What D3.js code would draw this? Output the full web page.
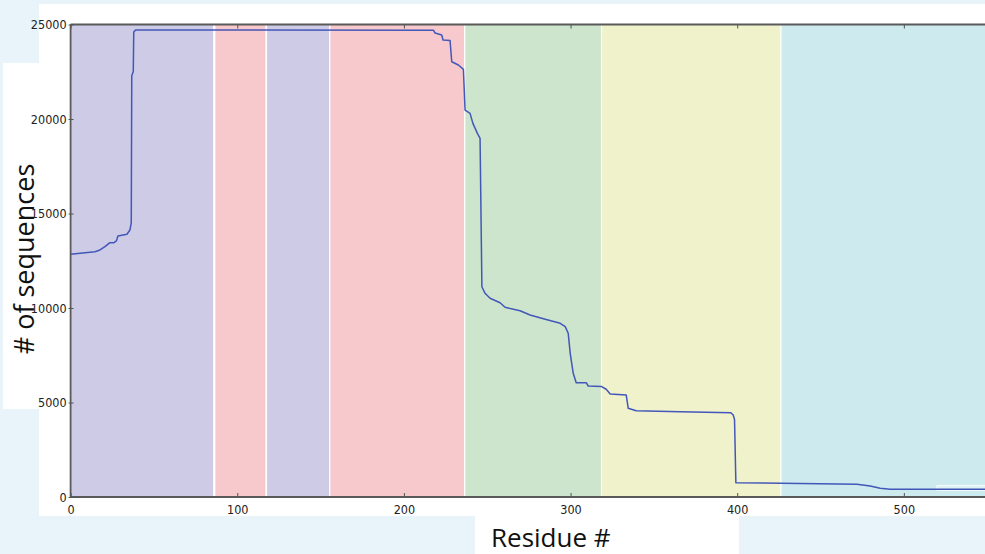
<!DOCTYPE html>
<html>
<head>
<meta charset="utf-8">
<script src="https://cdn.jsdelivr.net/npm/d3@7"></script>
<style>
  body{margin:0;background:#e8f3fa;}
  svg{display:block;}
</style>
</head>
<body>
<div id="chart"></div>
<script>
var svgW=985,svgH=554;
var margin={left:70.6,top:24.5,right:-1.8,bottom:57};

// residue ranges coloured in the background
var bandStart=[0,86.9,117.9,155.9,236.9,318.8,426.6];
var bandEnd=[85.5,116.9,155.1,236.1,318.2,425.8,550];
var bandGroup=["a","b","a","b","c","d","e"];

// line: residue number vs. number of sequences
var residue=[0,14.6,17.6,20.6,23.6,26,27.5,28.4,33.8,35.6,36.4,36.7,37.6,37.9,39,
  217.7,218.7,222.7,223.5,227.7,228.7,232.7,235.7,236.7,239.7,241.4,244.1,245.7,246.8,
  248.7,251.7,257.7,260.7,269.7,275.7,284.8,293.8,296.8,298.6,299.8,301.6,303.4,309.4,
  310.6,318.4,321.4,323.8,333.4,334.6,339.4,365.8,396.2,397.6,398.4,399.2,471.8,479.8,
  485.8,491.8,550];
var seqCount=[12850,12980,13070,13245,13455,13455,13550,13810,13900,14127,14500,22300,22500,24600,24710,
  24700,24550,24444,24180,24150,23030,22857,22628,20476,20300,19770,19240,18980,11127,
  10777,10513,10280,10037,9857,9630,9401,9190,9013,8661,7603,6545,6047,6047,
  5873,5850,5700,5450,5400,4693,4566,4513,4460,4339,4100,757,672,582,
  460,407,407];

var xTicks=[0,100,200,300,400,500];
var yTicks=[0,5000,10000,15000,20000,25000];

var bandColor=d3.scaleOrdinal()
  .domain(["a","b","c","d","e"])
  .range(["#cdcbe6","#f7c9cd","#cde4cd","#f0f2cc","#cdebee"]);

var svg=d3.select("#chart").append("svg")
  .attr("width",svgW).attr("height",svgH);

// white cut-out panels behind the figure (screenshot look)
svg.append("rect").attr("x",39).attr("y",4).attr("width",946).attr("height",512).attr("fill","#fff");
svg.append("rect").attr("x",3).attr("y",63).attr("width",40).attr("height",346).attr("fill","#fff");
svg.append("rect").attr("x",475).attr("y",515).attr("width",264).attr("height",39).attr("fill","#fff");

var x=d3.scaleLinear().domain([0,550]).range([margin.left,margin.left+550*1.6665]);
var y=d3.scaleLinear().domain([0,25000]).range([497,margin.top]);

var bands=svg.append("g").attr("id","bands");
bands.selectAll("rect")
  .data(bandStart)
  .enter().append("rect")
  .attr("x",function(d){return x(d);})
  .attr("y",y(25000))
  .attr("width",function(d,i){return x(bandEnd[i])-x(d);})
  .attr("height",y(0)-y(25000))
  .attr("fill",function(d,i){return bandColor(bandGroup[i]);});

// little legend corner poking in at bottom right
svg.append("rect").attr("x",937).attr("y",485.7).attr("width",50).attr("height",4.5)
  .attr("fill","rgba(255,255,255,0.3)").attr("stroke","#fff").attr("stroke-width",0.9);

var line=d3.line()
  .x(function(d,i){return x(residue[i]);})
  .y(function(d){return y(d);});

svg.append("path")
  .datum(seqCount)
  .attr("d",line)
  .attr("fill","none")
  .attr("stroke","#4357b9")
  .attr("stroke-width",1.5)
  .attr("stroke-linejoin","round");

// frame
svg.append("line").attr("x1",x(0)).attr("x2",svgW).attr("y1",y(25000)).attr("y2",y(25000))
  .attr("stroke","#5a5a5a").attr("stroke-width",1.8);
svg.append("line").attr("x1",x(0)).attr("x2",svgW).attr("y1",y(0)).attr("y2",y(0))
  .attr("stroke","#5a5a5a").attr("stroke-width",1.8);
svg.append("line").attr("x1",x(0)).attr("x2",x(0)).attr("y1",y(25000)).attr("y2",y(0))
  .attr("stroke","#5a5a5a").attr("stroke-width",1.8);

var tickFont="'Liberation Sans Narrow','DejaVu Sans Condensed',sans-serif";

var xAxis=svg.append("g").attr("transform","translate(0,"+y(0)+")")
  .call(d3.axisBottom(x).tickValues(xTicks).tickSizeInner(-4).tickSizeOuter(0).tickPadding(8));
var xTop=svg.append("g").attr("transform","translate(0,"+y(25000)+")")
  .call(d3.axisTop(x).tickValues(xTicks).tickSizeInner(-4).tickSizeOuter(0).tickFormat(""));
var yAxis=svg.append("g").attr("transform","translate("+x(0)+",0)")
  .call(d3.axisLeft(y).tickValues(yTicks).tickSizeInner(-3).tickSizeOuter(0).tickPadding(4).tickFormat(d3.format("d")));

[xAxis,xTop,yAxis].forEach(function(g){
  g.select(".domain").remove();
  g.selectAll(".tick line").attr("stroke","#555");
  g.selectAll("text").style("font-family",tickFont).style("font-size","12.5px").attr("fill","#222");
});
yAxis.selectAll(".tick line").attr("x1",-2).attr("x2",3);

// axis titles
svg.append("text")
  .attr("transform","translate(34,259) rotate(-90)")
  .attr("text-anchor","middle")
  .style("font-family","'Open Sans',sans-serif")
  .style("font-size","27px")
  .attr("fill","#111")
  .text("# of sequences");

svg.append("text")
  .attr("x",491)
  .attr("y",547)
  .style("font-family","'Open Sans',sans-serif")
  .style("font-size","26px")
  .attr("fill","#111")
  .text("Residue #");
</script>
</body>
</html>
